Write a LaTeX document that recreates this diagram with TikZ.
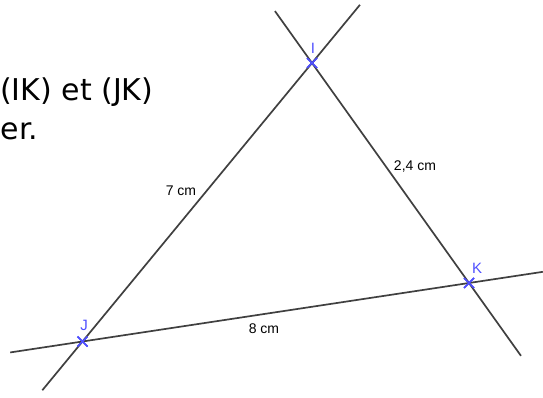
\documentclass[tikz,border=0pt]{standalone}
\usepackage{fontspec}
\setmainfont{Liberation Sans}
\newfontfamily\titrefont{DejaVu Sans}
\usetikzlibrary{calc,shapes.misc}
\definecolor{geobleu}{RGB}{80,80,255}
\definecolor{geogris}{RGB}{64,64,64}

\begin{document}
\begin{tikzpicture}[x=1pt,y=-1pt,
  droite/.style={geogris,line width=1.7pt},
  croix/.style={cross out,draw=geobleu,line width=1.5pt,minimum size=8.5pt,inner sep=0pt},
  nompt/.style={geobleu,font=\fontsize{15}{15}\selectfont},
  mesure/.style={font=\fontsize{14}{14}\selectfont}]
  \useasboundingbox (0,0) rectangle (543,398);
  % texte du haut
  \node[anchor=base west,inner sep=0pt,font=\titrefont\fontsize{30}{30}\selectfont] (txt1) at (0,101) {(IK) et (JK)};
  \node[anchor=base west,inner sep=0pt,font=\titrefont\fontsize{30}{30}\selectfont] (txt2) at (0.5,140) {er.};
  % les trois points
  \node[croix] (I) at (312,63) {};
  \node[croix] (J) at (82.5,341.5) {};
  \node[croix] (K) at (469,283) {};
  % les droites
  \draw[droite] ($(J)!-0.175!(I)$) -- ($(J)!1.209!(I)$);
  \draw[droite] ($(I)!-0.236!(K)$) -- ($(I)!1.331!(K)$);
  \draw[droite] ($(J)!-0.187!(K)$) -- ($(J)!1.191!(K)$);
  \node[croix] at (I) {}; \node[croix] at (J) {}; \node[croix] at (K) {};
  \node[nompt] (nI) at (313,48) {I};
  \node[nompt] (nJ) at (84,325) {J};
  \node[nompt] (nK) at (477,268) {K};
  % longueurs
  \node[mesure] (lIJ) at (181,191) {7 cm};
  \node[mesure] (lIK) at (415,167) {2,4 cm};
  \node[mesure] (lJK) at (264,329) {8 cm};
\end{tikzpicture}
\end{document}
